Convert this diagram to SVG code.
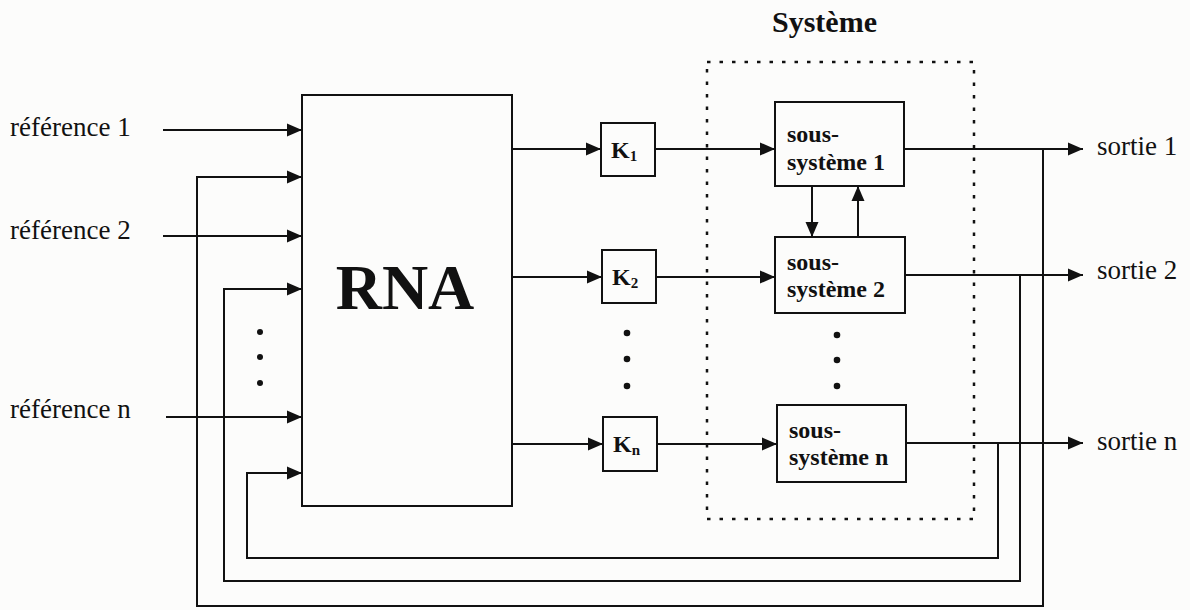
<svg xmlns="http://www.w3.org/2000/svg" width="1190" height="610" viewBox="0 0 1190 610">
<style>
.ln{fill:none;stroke:#111;stroke-width:2}
.bx{fill:none;stroke:#111;stroke-width:2}
.lbl{font-family:"Liberation Serif","Times New Roman",serif;font-size:27px;fill:#111}
.b{font-family:"Liberation Serif","Times New Roman",serif;font-weight:bold;fill:#111}
.dot{fill:#111}
</style>
<defs>
<marker id="ah" markerUnits="userSpaceOnUse" markerWidth="16" markerHeight="14" refX="15" refY="7" orient="auto">
<path d="M0,0.5 L15,7 L0,13.5 z" fill="#111"/>
</marker>
</defs>
<rect width="1190" height="610" fill="#fcfcfb"/>
<text class="b" x="772" y="32" font-size="30">Système</text>
<rect id="systeme" x="707" y="62" width="267" height="457" fill="none" stroke="#111" stroke-width="2.5" stroke-dasharray="3.5 9"/>
<g id="labels-in">
<text class="lbl" x="10" y="136">référence 1</text>
<text class="lbl" x="10" y="239">référence 2</text>
<text class="lbl" x="10" y="418">référence n</text>
</g>
<g id="labels-out">
<text class="lbl" x="1097" y="155">sortie 1</text>
<text class="lbl" x="1097" y="279">sortie 2</text>
<text class="lbl" x="1097" y="450">sortie n</text>
</g>
<g id="rna">
<rect class="bx" x="302" y="95" width="210" height="411"/>
<text class="b" x="405" y="309" font-size="64" text-anchor="middle">RNA</text>
</g>
<g id="k1">
<rect class="bx" x="601" y="123" width="54" height="53"/>
<text class="b" x="611" y="158" font-size="24">K<tspan font-size="15" dy="3">1</tspan></text>
</g>
<g id="k2">
<rect class="bx" x="602" y="250" width="54" height="53"/>
<text class="b" x="612" y="285" font-size="24">K<tspan font-size="15" dy="3">2</tspan></text>
</g>
<g id="kn">
<rect class="bx" x="603" y="417" width="54" height="54"/>
<text class="b" x="613" y="452" font-size="24">K<tspan font-size="15" dy="3">n</tspan></text>
</g>
<g id="ss1">
<rect class="bx" x="775" y="102" width="129" height="84"/>
<text class="b" x="787" y="142" font-size="24">sous-</text>
<text class="b" x="787" y="170" font-size="24">système 1</text>
</g>
<g id="ss2">
<rect class="bx" x="775" y="237" width="130" height="76"/>
<text class="b" x="787" y="270" font-size="24">sous-</text>
<text class="b" x="787" y="297" font-size="24">système 2</text>
</g>
<g id="ssn">
<rect class="bx" x="777" y="405" width="129" height="77"/>
<text class="b" x="789" y="438" font-size="24">sous-</text>
<text class="b" x="789" y="465" font-size="24">système n</text>
</g>
<g id="ellipses">
<circle class="dot" cx="260" cy="332" r="3"/>
<circle class="dot" cx="260" cy="357" r="3"/>
<circle class="dot" cx="260" cy="383" r="3"/>
<circle class="dot" cx="627" cy="333" r="3.3"/>
<circle class="dot" cx="627" cy="359" r="3.3"/>
<circle class="dot" cx="627" cy="386" r="3.3"/>
<circle class="dot" cx="837" cy="335" r="3.3"/>
<circle class="dot" cx="837" cy="360" r="3.3"/>
<circle class="dot" cx="837" cy="386" r="3.3"/>
</g>
<g id="connectors">
<path class="ln" d="M163,130 H302" marker-end="url(#ah)"/>
<path class="ln" d="M163,236 H302" marker-end="url(#ah)"/>
<path class="ln" d="M166,417 H302" marker-end="url(#ah)"/>
<path class="ln" d="M1043,149 V606 H197 V177 H302" marker-end="url(#ah)"/>
<path class="ln" d="M1020,275 V581 H224 V289 H302" marker-end="url(#ah)"/>
<path class="ln" d="M998,443 V558 H247 V473 H302" marker-end="url(#ah)"/>
<path class="ln" d="M512,149 H601" marker-end="url(#ah)"/>
<path class="ln" d="M512,277 H602" marker-end="url(#ah)"/>
<path class="ln" d="M512,444 H603" marker-end="url(#ah)"/>
<path class="ln" d="M655,149 H775" marker-end="url(#ah)"/>
<path class="ln" d="M656,277 H775" marker-end="url(#ah)"/>
<path class="ln" d="M657,444 H777" marker-end="url(#ah)"/>
<path class="ln" d="M904,149 H1083" marker-end="url(#ah)"/>
<path class="ln" d="M905,275 H1083" marker-end="url(#ah)"/>
<path class="ln" d="M906,443 H1083" marker-end="url(#ah)"/>
<path class="ln" d="M812,186 V237" marker-end="url(#ah)"/>
<path class="ln" d="M858,237 V186" marker-end="url(#ah)"/>
</g>
</svg>
